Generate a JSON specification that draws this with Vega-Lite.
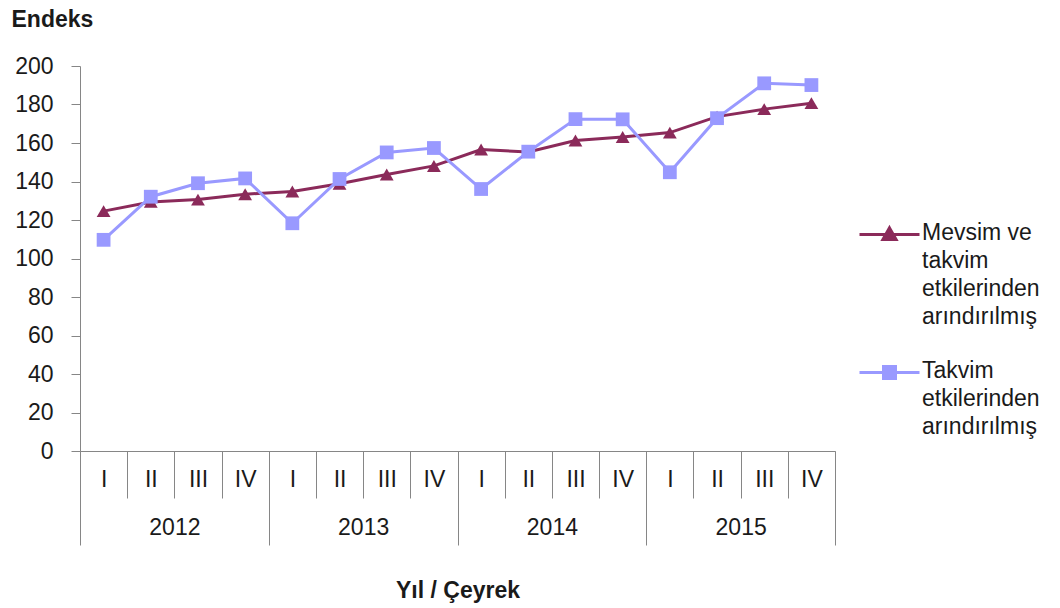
{
  "$schema": "https://vega.github.io/schema/vega-lite/v6.json",
  "width": 755,
  "height": 385,
  "autosize": {"type": "none"},
  "padding": {"left": 80, "top": 66, "right": 225, "bottom": 157},
  "background": "white",
  "config": {
    "view": {"stroke": null},
    "font": "Liberation Sans",
    "axis": {
      "domainColor": "#868686",
      "tickColor": "#868686",
      "labelColor": "#1a1a1a",
      "titleColor": "#1a1a1a",
      "labelFont": "Liberation Sans",
      "titleFont": "Liberation Sans",
      "grid": false
    }
  },
  "data": {
    "values": [
      {"donem": "2012-I", "yil": "2012", "ceyrek": "I", "seri": "Mevsim ve takvim etkilerinden arındırılmış", "deger": 124.6},
      {"donem": "2012-II", "yil": "2012", "ceyrek": "II", "seri": "Mevsim ve takvim etkilerinden arındırılmış", "deger": 129.4},
      {"donem": "2012-III", "yil": "2012", "ceyrek": "III", "seri": "Mevsim ve takvim etkilerinden arındırılmış", "deger": 130.6},
      {"donem": "2012-IV", "yil": "2012", "ceyrek": "IV", "seri": "Mevsim ve takvim etkilerinden arındırılmış", "deger": 133.4},
      {"donem": "2013-I", "yil": "2013", "ceyrek": "I", "seri": "Mevsim ve takvim etkilerinden arındırılmış", "deger": 134.8},
      {"donem": "2013-II", "yil": "2013", "ceyrek": "II", "seri": "Mevsim ve takvim etkilerinden arındırılmış", "deger": 138.8},
      {"donem": "2013-III", "yil": "2013", "ceyrek": "III", "seri": "Mevsim ve takvim etkilerinden arındırılmış", "deger": 143.6},
      {"donem": "2013-IV", "yil": "2013", "ceyrek": "IV", "seri": "Mevsim ve takvim etkilerinden arındırılmış", "deger": 148.1},
      {"donem": "2014-I", "yil": "2014", "ceyrek": "I", "seri": "Mevsim ve takvim etkilerinden arındırılmış", "deger": 156.6},
      {"donem": "2014-II", "yil": "2014", "ceyrek": "II", "seri": "Mevsim ve takvim etkilerinden arındırılmış", "deger": 155.3},
      {"donem": "2014-III", "yil": "2014", "ceyrek": "III", "seri": "Mevsim ve takvim etkilerinden arındırılmış", "deger": 161.3},
      {"donem": "2014-IV", "yil": "2014", "ceyrek": "IV", "seri": "Mevsim ve takvim etkilerinden arındırılmış", "deger": 163.1},
      {"donem": "2015-I", "yil": "2015", "ceyrek": "I", "seri": "Mevsim ve takvim etkilerinden arındırılmış", "deger": 165.4},
      {"donem": "2015-II", "yil": "2015", "ceyrek": "II", "seri": "Mevsim ve takvim etkilerinden arındırılmış", "deger": 173.7},
      {"donem": "2015-III", "yil": "2015", "ceyrek": "III", "seri": "Mevsim ve takvim etkilerinden arındırılmış", "deger": 177.6},
      {"donem": "2015-IV", "yil": "2015", "ceyrek": "IV", "seri": "Mevsim ve takvim etkilerinden arındırılmış", "deger": 180.7},
      {"donem": "2012-I", "yil": "2012", "ceyrek": "I", "seri": "Takvim etkilerinden arındırılmış", "deger": 109.7},
      {"donem": "2012-II", "yil": "2012", "ceyrek": "II", "seri": "Takvim etkilerinden arındırılmış", "deger": 132.1},
      {"donem": "2012-III", "yil": "2012", "ceyrek": "III", "seri": "Takvim etkilerinden arındırılmış", "deger": 139.1},
      {"donem": "2012-IV", "yil": "2012", "ceyrek": "IV", "seri": "Takvim etkilerinden arındırılmış", "deger": 141.6},
      {"donem": "2013-I", "yil": "2013", "ceyrek": "I", "seri": "Takvim etkilerinden arındırılmış", "deger": 118.3},
      {"donem": "2013-II", "yil": "2013", "ceyrek": "II", "seri": "Takvim etkilerinden arındırılmış", "deger": 141.3},
      {"donem": "2013-III", "yil": "2013", "ceyrek": "III", "seri": "Takvim etkilerinden arındırılmış", "deger": 155.1},
      {"donem": "2013-IV", "yil": "2013", "ceyrek": "IV", "seri": "Takvim etkilerinden arındırılmış", "deger": 157.4},
      {"donem": "2014-I", "yil": "2014", "ceyrek": "I", "seri": "Takvim etkilerinden arındırılmış", "deger": 136.1},
      {"donem": "2014-II", "yil": "2014", "ceyrek": "II", "seri": "Takvim etkilerinden arındırılmış", "deger": 155.5},
      {"donem": "2014-III", "yil": "2014", "ceyrek": "III", "seri": "Takvim etkilerinden arındırılmış", "deger": 172.4},
      {"donem": "2014-IV", "yil": "2014", "ceyrek": "IV", "seri": "Takvim etkilerinden arındırılmış", "deger": 172.3},
      {"donem": "2015-I", "yil": "2015", "ceyrek": "I", "seri": "Takvim etkilerinden arındırılmış", "deger": 144.8},
      {"donem": "2015-II", "yil": "2015", "ceyrek": "II", "seri": "Takvim etkilerinden arındırılmış", "deger": 172.9},
      {"donem": "2015-III", "yil": "2015", "ceyrek": "III", "seri": "Takvim etkilerinden arındırılmış", "deger": 191.0},
      {"donem": "2015-IV", "yil": "2015", "ceyrek": "IV", "seri": "Takvim etkilerinden arındırılmış", "deger": 190.1}
    ]
  },
  "encoding": {
    "y": {
      "field": "deger",
      "type": "quantitative",
      "scale": {"domain": [0, 200], "nice": false, "zero": true},
      "axis": {
        "values": [0, 20, 40, 60, 80, 100, 120, 140, 160, 180, 200],
        "title": "Endeks",
        "titleAngle": 0,
        "titleAlign": "left",
        "titleBaseline": "alphabetic",
        "titleX": -69,
        "titleY": -40,
        "titleFontSize": 23,
        "titleFontWeight": "bold",
        "labelFontSize": 23,
        "labelPadding": 18,
        "tickSize": 9
      }
    }
  },
  "layer": [
    {
      "encoding": {
        "x": {
          "field": "donem",
          "type": "ordinal",
          "sort": null,
          "scale": {"type": "band", "paddingInner": 0, "paddingOuter": 0},
          "axis": {
            "title": null,
            "labelExpr": "split(datum.value, '-')[1]",
            "labelAngle": 0,
            "labelFontSize": 23,
            "labelBaseline": "middle",
            "labelPadding": -19,
            "tickSize": 47,
            "tickBand": "extent",
            "domain": true
          }
        },
        "color": {
          "field": "seri",
          "type": "nominal",
          "scale": {
            "domain": ["Mevsim ve takvim etkilerinden arındırılmış", "Takvim etkilerinden arındırılmış"],
            "range": ["#8b2a5a", "#9999ff"]
          },
          "legend": {
            "title": null,
            "orient": "none",
            "legendX": 778,
            "legendY": 137,
            "symbolSize": 3600,
            "labelFontSize": 23,
            "labelColor": "#1a1a1a",
            "labelFont": "Liberation Sans",
            "labelBaseline": "top",
            "labelOffset": 1,
            "labelLimit": 300,
            "rowPadding": 12,
            "labelExpr": "datum.value == 'Takvim etkilerinden arındırılmış' ? ['Takvim', 'etkilerinden', 'arındırılmış'] : ['Mevsim ve', 'takvim', 'etkilerinden', 'arındırılmış']",
            "encode": {
              "symbols": {
                "update": {
                  "shape": {"signal": "datum.value == 'Takvim etkilerinden arındırılmış' ? 'M-1,0H1M-0.2,-0.2H0.2V0.2H-0.2Z' : 'M-1,0H1M0,-0.22L0.22,0.17L-0.22,0.17Z'"},
                  "fill": {"scale": "color", "field": "value"},
                  "stroke": {"scale": "color", "field": "value"},
                  "strokeWidth": {"value": 3},
                  "opacity": {"value": 1}
                }
              },
              "labels": {
                "update": {
                  "lineHeight": {"value": 28},
                  "dy": {"value": -13}
                }
              }
            }
          }
        }
      },
      "layer": [
        {"mark": {"type": "line", "strokeWidth": 3}},
        {
          "mark": {"type": "point", "filled": true, "opacity": 1, "size": 190},
          "encoding": {
            "shape": {
              "condition": {"test": "datum.seri == 'Takvim etkilerinden arındırılmış'", "value": "square"},
              "value": "triangle-up"
            }
          }
        }
      ]
    },
    {
      "mark": {"type": "point", "opacity": 0},
      "encoding": {
        "x": {
          "field": "yil",
          "type": "ordinal",
          "scale": {"type": "band", "paddingInner": 0, "paddingOuter": 0},
          "axis": {
            "orient": "bottom",
            "title": "Yıl / Çeyrek",
            "titleFontSize": 23,
            "titleFontWeight": "bold",
            "titlePadding": 34,
            "labelAngle": 0,
            "labelFontSize": 23,
            "labelBaseline": "middle",
            "labelPadding": -18,
            "tickSize": 94,
            "tickBand": "extent",
            "domain": false
          }
        }
      }
    }
  ],
  "resolve": {"scale": {"x": "independent"}}
}
